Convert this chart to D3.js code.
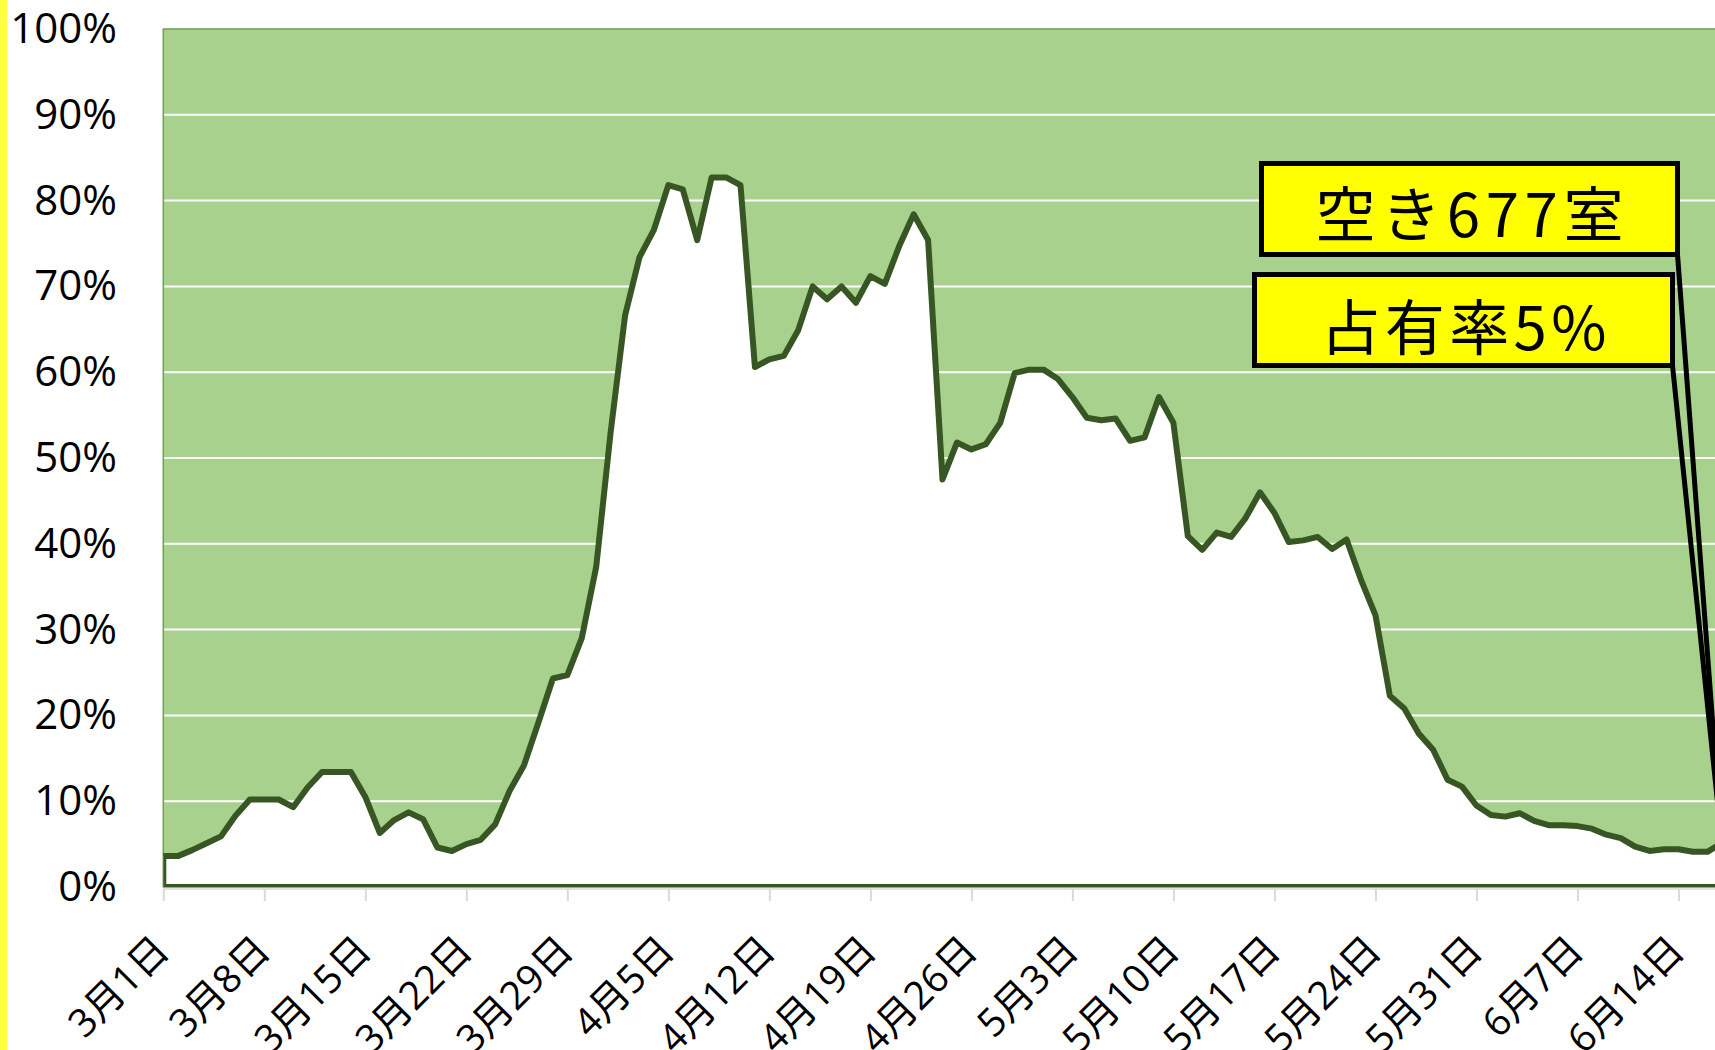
<!DOCTYPE html>
<html>
<head>
<meta charset="utf-8">
<script src="https://cdn.jsdelivr.net/npm/d3@7"></script>
<style>
  html, body { margin: 0; padding: 0; background: #fff; overflow: hidden; }
  svg { display: block; }
</style>
</head>
<body>
<div id="main-container"></div>
<script>
// DATA
// occupancy rate (%) per day, starting 3月1日
const occupancy = [
  3.6, 3.6, 4.3, 5.1, 5.9, 8.3, 10.2, 10.2, 10.2, 9.3,
  11.6, 13.4, 13.4, 13.4, 10.5, 6.3, 7.8, 8.7, 7.9, 4.6,
  4.2, 5.0, 5.5, 7.3, 11.2, 14.2, 19.2, 24.3, 24.7, 29.0,
  37.3, 53.0, 66.6, 73.4, 76.6, 81.8, 81.3, 75.4, 82.7, 82.7,
  81.8, 60.6, 61.5, 61.9, 64.9, 70.0, 68.5, 70.0, 68.1, 71.2,
  70.3, 74.7, 78.4, 75.4, 47.5, 51.8, 51.0, 51.6, 54.1, 59.9,
  60.3, 60.3, 59.2, 57.1, 54.7, 54.4, 54.6, 52.0, 52.4, 57.1,
  54.1, 40.9, 39.3, 41.3, 40.8, 43.0, 46.0, 43.6, 40.2, 40.4,
  40.8, 39.4, 40.5, 35.8, 31.7, 22.3, 20.8, 17.9, 16.0, 12.5,
  11.7, 9.5, 8.4, 8.2, 8.6, 7.7, 7.2, 7.2, 7.1, 6.8,
  6.1, 5.7, 4.7, 4.2, 4.4, 4.4, 4.1, 4.1, 5.1
];
const tickLabels = ["3月1日", "3月8日", "3月15日", "3月22日", "3月29日", "4月5日", "4月12日",
  "4月19日", "4月26日", "5月3日", "5月10日", "5月17日", "5月24日", "5月31日", "6月7日", "6月14日"];
const yTicks = [0, 10, 20, 30, 40, 50, 60, 70, 80, 90, 100];
const callouts = ["空き677室", "占有率5%"];

// CONSTANTS
const W = 1715, H = 1050;
const plot = {left: 163.3, top: 29, bottom: 887, dayWidth: 14.43};
const lastDay = occupancy.length - 1;

const svg = d3.select("#main-container")
  .append("svg")
    .attr("width", W)
    .attr("height", H);

// yellow strip on the far left
svg.append("rect")
  .attr("x", 0).attr("y", 0)
  .attr("width", 7).attr("height", H)
  .attr("fill", "#ffff40");

const x = d3.scaleLinear()
  .domain([0, lastDay])
  .range([plot.left, plot.left + lastDay * plot.dayWidth]);

const y = d3.scaleLinear()
  .domain([0, 100])
  .range([plot.bottom, plot.top]);

svg.append("clipPath").attr("id", "plot-clip")
  .append("rect")
    .attr("x", plot.left).attr("y", plot.top)
    .attr("width", W - plot.left).attr("height", plot.bottom - plot.top);

// plot background
svg.append("rect")
  .attr("x", plot.left).attr("y", plot.top)
  .attr("width", W - plot.left + 10).attr("height", plot.bottom - plot.top)
  .attr("fill", "#a9d18e")
  .attr("stroke", "#6f9f50")
  .attr("stroke-width", 1.5);

// gridlines
svg.append("g")
  .selectAll("line")
  .data(yTicks.slice(1, -1))
  .join("line")
    .attr("x1", plot.left + 1).attr("x2", W)
    .attr("y1", d => y(d)).attr("y2", d => y(d))
    .attr("stroke", "#fff")
    .attr("stroke-width", 2);

// occupied area (white) with dark green outline
const area = d3.area()
  .x((d, i) => x(i))
  .y0(y(0))
  .y1(d => y(d));

svg.append("path")
  .datum(occupancy)
  .attr("clip-path", "url(#plot-clip)")
  .attr("d", area)
  .attr("fill", "#fff")
  .attr("stroke", "#375623")
  .attr("stroke-width", 6)
  .attr("stroke-linejoin", "round");

// x axis
const xAxis = d3.axisBottom(x)
  .tickValues(d3.range(0, tickLabels.length * 7, 7))
  .tickSize(12)
  .tickFormat((d) => tickLabels[d / 7]);

const gx = svg.append("g")
  .attr("transform", `translate(0, ${plot.bottom + 2})`)
  .call(xAxis);

gx.select(".domain")
  .attr("d", `M${plot.left},0H${W}`)
  .attr("stroke", "#d9d9d9")
  .attr("stroke-width", 1.5);
gx.selectAll(".tick line")
  .attr("stroke", "#d9d9d9")
  .attr("stroke-width", 2);
gx.selectAll(".tick text")
  .attr("x", -3)
  .attr("y", 0)
  .attr("dy", "0.35em")
  .attr("transform", "translate(0, 52) rotate(-45)")
  .attr("text-anchor", "end")
  .attr("fill", "#000")
  .style("font-family", "'Open Sans', 'Noto Sans CJK JP', sans-serif")
  .style("font-size", "39px");

// y axis labels
const yAxis = d3.axisLeft(y)
  .tickValues(yTicks)
  .tickSize(0)
  .tickPadding(0)
  .tickFormat((d) => `${d}%`);

const gy = svg.append("g")
  .attr("transform", "translate(117, 0)")
  .call(yAxis);

gy.select(".domain").remove();
gy.selectAll(".tick text")
  .attr("fill", "#000")
  .style("font-family", "'Open Sans', sans-serif")
  .style("font-size", "42px");

// callout boxes with leader lines to the last point
const target = [x(lastDay), y(occupancy[lastDay])];
const boxes = [
  {x: 1261.5, y: 163.5, w: 416, h: 91, textLen: 308, base: 237},
  {x: 1254.5, y: 274.5, w: 418, h: 91, textLen: 286, base: 350}
];

const callG = svg.append("g");

callG.selectAll("line")
  .data(boxes)
  .join("line")
    .attr("x1", d => d.x + d.w)
    .attr("y1", d => d.y + d.h)
    .attr("x2", target[0])
    .attr("y2", target[1])
    .attr("stroke", "#000")
    .attr("stroke-width", 5);

callG.selectAll("rect")
  .data(boxes)
  .join("rect")
    .attr("x", d => d.x).attr("y", d => d.y)
    .attr("width", d => d.w).attr("height", d => d.h)
    .attr("fill", "#ffff00")
    .attr("stroke", "#000")
    .attr("stroke-width", 5);

callG.selectAll("text")
  .data(boxes)
  .join("text")
    .attr("x", d => d.x + d.w / 2 - d.textLen / 2)
    .attr("y", d => d.base)
    .attr("textLength", d => d.textLen)
    .attr("lengthAdjust", "spacing")
    .style("font-family", "'Noto Sans CJK JP', sans-serif")
    .style("font-size", "60px")
    .style("font-weight", 400)
    .text((d, i) => callouts[i]);
</script>
</body>
</html>
